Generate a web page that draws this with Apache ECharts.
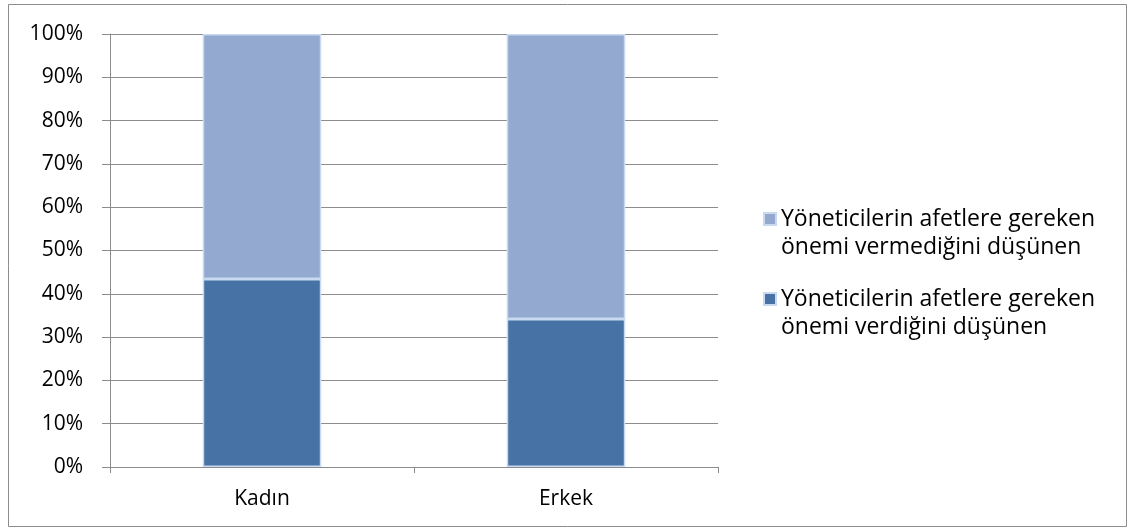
<!DOCTYPE html>
<html><head><meta charset="utf-8">
<script src="https://cdn.jsdelivr.net/npm/echarts@6/dist/echarts.min.js"></script>
<style>html,body{margin:0;padding:0;background:#fff}#c{width:1134px;height:531px}</style>
</head><body><div id="c"></div>
<script>
const categories = ['Kadın', 'Erkek'];
const seriesNames = ['Yöneticilerin afetlere gereken\nönemi verdiğini düşünen', 'Yöneticilerin afetlere gereken\nönemi vermediğini düşünen'];
const verdigi = [43.4, 34.2];
const vermedigi = [56.6, 65.8];
const yTicks = [0, 10, 20, 30, 40, 50, 60, 70, 80, 90, 100];

const font = '"Open Sans", "Liberation Sans", sans-serif';
const chart = echarts.init(document.getElementById('c'));
chart.setOption({
  animation: false,
  graphic: [{type: 'rect', shape: {x: 8.5, y: 4.5, width: 1118, height: 522}, style: {fill: 'none', stroke: '#8c8c8c', lineWidth: 1}}],
  grid: {left: 110, right: 416, top: 34, bottom: 64},
  legend: {
    orient: 'vertical', left: 758, top: 172,
    data: [seriesNames[1], seriesNames[0]],
    itemWidth: 12, itemHeight: 12, itemGap: -4,
    icon: 'rect',
    formatter: name => ' \n' + name,
    textStyle: {fontFamily: font, fontSize: 23, color: '#000', lineHeight: 28}
  },
  xAxis: {
    type: 'category', data: categories,
    axisLine: {lineStyle: {color: '#8c8c8c'}},
    axisTick: {show: true, length: 6, lineStyle: {color: '#8c8c8c'}},
    axisLabel: {fontFamily: font, fontSize: 21, color: '#000', margin: 22}
  },
  yAxis: {
    type: 'value', min: 0, max: 100, interval: 10,
    axisLine: {show: true, lineStyle: {color: '#8c8c8c'}},
    axisTick: {show: true, length: 8, inside: false, lineStyle: {color: '#8c8c8c'}},
    splitLine: {lineStyle: {color: '#8c8c8c'}},
    axisLabel: {fontFamily: font, fontSize: 21, color: '#000', margin: 27,
      formatter: v => yTicks.includes(v) ? v + '%' : ''}
  },
  series: [
    {name: seriesNames[0], type: 'bar', stack: 's', data: verdigi, barWidth: '39%',
     itemStyle: {color: '#4672A6', borderColor: '#c9daf0', borderWidth: 1.5}},
    {name: seriesNames[1], type: 'bar', stack: 's', data: vermedigi, barWidth: '39%',
     itemStyle: {color: '#94A9D0', borderColor: '#c9daf0', borderWidth: 1.5}}
  ]
});
</script></body></html>
